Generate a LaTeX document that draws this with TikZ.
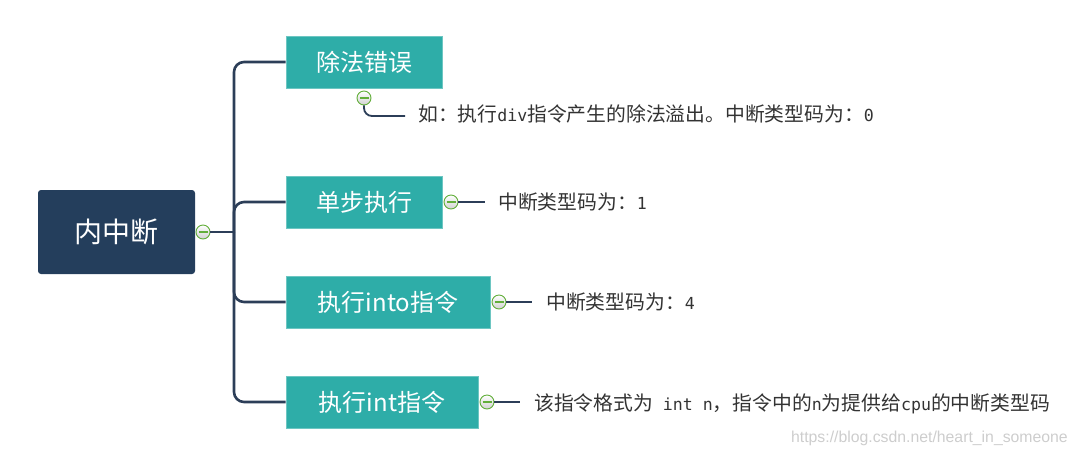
\documentclass[tikz,border=0pt]{standalone}
\usepackage{fontspec}
\setmainfont{Noto Sans CJK SC}
\newfontfamily\wmfont{Liberation Sans}
\newfontfamily\halfwfont{DejaVu Sans Mono}
\newcommand\hw[1]{{\halfwfont\fontsize{16.6}{20}\selectfont #1}}
\usepackage{tikz}
\usetikzlibrary{positioning,calc}
\definecolor{rootnavy}{HTML}{243E5C}
\definecolor{topicteal}{HTML}{2EADA8}
\definecolor{linkcol}{HTML}{2C3E58}
\definecolor{dotgreen}{HTML}{62AE3A}
\definecolor{notetext}{HTML}{333333}
\definecolor{wmgray}{HTML}{CDCDCD}
\tikzset{
  rootbox/.style={fill=rootnavy,rounded corners=3pt,
                  minimum width=157pt,minimum height=84pt,
                  text=white,font=\fontsize{28}{32}\selectfont},
  subbox/.style={fill=topicteal,draw=topicteal!70!white,line width=0.8pt,
                 minimum height=52pt,inner xsep=0pt,
                 text=white,font=\fontsize{24}{28}\selectfont},
  foldmark/.style={circle,draw=dotgreen,line width=0.9pt,
                   minimum size=14pt,inner sep=0pt,
                   top color=white,bottom color=black!18,
                   path picture={\draw[dotgreen,line width=1.1pt]
                     ([xshift=-4.5pt]path picture bounding box.center) --
                     ([xshift=4.5pt]path picture bounding box.center);}},
  branch/.style={draw=linkcol,line width=2.6pt,rounded corners=10pt},
  leaf/.style={draw=linkcol,line width=1.8pt,rounded corners=8pt},
  note/.style={text=notetext,font=\fontsize{19.8}{22}\selectfont,
               anchor=west,inner sep=0pt}
}
\begin{document}
\begin{tikzpicture}[x=1pt,y=-1pt]
  \useasboundingbox (0,0) rectangle (1077,456);
  % root and topics
  \node[rootbox] (root) at (116.5,232) {内中断};
  \node[foldmark] (d0) at (203,232) {};
  \coordinate (hub) at (234,232);
  \node[subbox,minimum width=156pt] (t1) at (364,62) {除法错误};
  \node[subbox,minimum width=156pt] (t2) at (364,202) {单步执行};
  \node[subbox,minimum width=204pt] (t3) at (388,302) {执行into指令};
  \node[subbox,minimum width=192pt] (t4) at (382,402) {执行int指令};
  % fold marks
  \node[foldmark] (d1) at (364,98) {};
  \node[foldmark] (d2) at (451,202) {};
  \node[foldmark] (d3) at (499,302) {};
  \node[foldmark] (d4) at (487,402) {};
  % notes
  \node[note] (n1) at (418,114) {如：执行\hw{div}指令产生的除法溢出。中断类型码为：\hw{0}};
  \node[note] (n2) at (498,202) {中断类型码为：\hw{1}};
  \node[note] (n3) at (546,302) {中断类型码为：\hw{4}};
  \node[note] (n4) at (534,404) {该指令格式为\hw{ int n}，指令中的\hw{n}为提供给\hw{cpu}的中断类型码};
  % branches
  \draw[branch] (d0.east) -- (hub);
  \foreach \t in {t1,t2,t3,t4}
    \draw[branch] (hub) |- (\t.west);
  \draw[leaf] (d1.south) |- ([xshift=-13pt,yshift=-2pt]n1.west);
  \draw[leaf,shorten >=13pt] (d2.east) -- (n2.west);
  \draw[leaf,shorten >=14pt] (d3.east) -- (n3.west);
  \draw[leaf,shorten >=14pt] (d4.east) -- (n4.west |- d4.east);
  \node[text=wmgray,font=\wmfont\fontsize{15.8}{18}\selectfont,anchor=east,inner sep=0pt]
    (wm) at (1068,438) {https://blog.csdn.net/heart\_in\_someone};
\end{tikzpicture}
\end{document}
